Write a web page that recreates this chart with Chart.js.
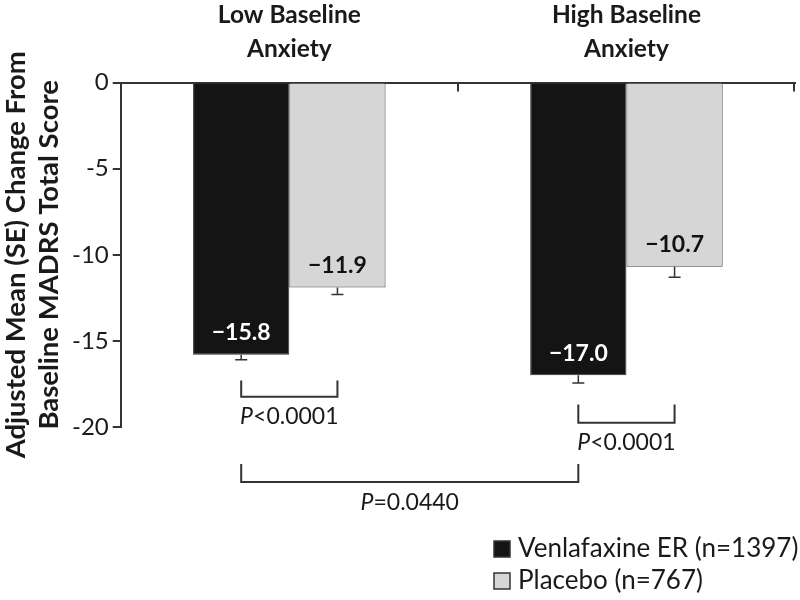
<!DOCTYPE html>
<html>
<head>
<meta charset="utf-8">
<script src="https://cdn.jsdelivr.net/npm/chart.js@4.4.1/dist/chart.umd.min.js"></script>
<style>
	body { margin: 0; background: #fff; }
	canvas { display: block; }
</style>
</head>
<body>
<canvas id="myChart" width="800" height="600"></canvas>
<script>
!(function(){
	'use strict';

	var categories = [['Low Baseline', 'Anxiety'], ['High Baseline', 'Anxiety']];
	var seriesNames = ['Venlafaxine ER (n=1397)', 'Placebo (n=767)'];
	var venlafaxine = [-15.8, -17.0];
	var venlafaxineSE = [0.3, 0.45];
	var placebo = [-11.9, -10.7];
	var placeboSE = [0.4, 0.6];
	var yMin = -20, yMax = 0, yStep = 5;

	// comparison brackets: [dataset, category] at each end, leg top / line level in axis units
	var comparisons = [
		{ a: [0, 0], b: [1, 0], top: -17.3, level: -18.25, p: '<0.0001' },
		{ a: [0, 1], b: [1, 1], top: -18.7, level: -19.75, p: '<0.0001' },
		{ a: [0, 0], b: [0, 1], top: -22.15, level: -23.2, p: '=0.0440' }
	];

	var FONT = 'Lato, "Open Sans", sans-serif';
	var INK = '#1a1a1a';

	var extras = {
		id: 'extras',
		afterDatasetsDraw: function(chart){
			var ctx = chart.ctx;
			var xs = chart.scales.x, ys = chart.scales.y;
			var area = chart.chartArea;
			ctx.save();

			// small inward ticks on the zero line between categories and at the end
			ctx.strokeStyle = '#333';
			ctx.lineWidth = 2;
			for (var i = 1; i <= categories.length; i++) {
				var tx = Math.round(xs.getPixelForValue(i - 0.5));
				if (i === categories.length) tx = area.right - 1;
				ctx.beginPath();
				ctx.moveTo(tx, area.top);
				ctx.lineTo(tx, area.top + 9);
				ctx.stroke();
			}

			// error bars (downward only) and value labels
			chart.data.datasets.forEach(function(ds, di){
				var meta = chart.getDatasetMeta(di);
				meta.data.forEach(function(bar, j){
					var v = ds.data[j];
					var yEnd = ys.getPixelForValue(v - ds.se[j]);
					ctx.strokeStyle = '#333';
					ctx.lineWidth = 1.5;
					ctx.beginPath();
					ctx.moveTo(bar.x, bar.y);
					ctx.lineTo(bar.x, yEnd);
					ctx.moveTo(bar.x - 6, yEnd);
					ctx.lineTo(bar.x + 6, yEnd);
					ctx.stroke();

					ctx.fillStyle = ds.labelColor;
					ctx.font = 'bold 23px ' + FONT;
					ctx.textAlign = 'center';
					ctx.textBaseline = 'middle';
					ctx.fillText('\u2212' + Math.abs(v).toFixed(1), bar.x, bar.y - 22);
				});
			});

			// significance brackets
			comparisons.forEach(function(c){
				var x1 = chart.getDatasetMeta(c.a[0]).data[c.a[1]].x;
				var x2 = chart.getDatasetMeta(c.b[0]).data[c.b[1]].x;
				var y1 = ys.getPixelForValue(c.top);
				var y2 = ys.getPixelForValue(c.level);
				ctx.strokeStyle = '#333';
				ctx.lineWidth = 2;
				ctx.beginPath();
				ctx.moveTo(x1, y1);
				ctx.lineTo(x1, y2);
				ctx.lineTo(x2, y2);
				ctx.lineTo(x2, y1);
				ctx.stroke();

				ctx.fillStyle = INK;
				ctx.textBaseline = 'middle';
				ctx.textAlign = 'left';
				ctx.font = 'italic 23px ' + FONT;
				var w1 = ctx.measureText('P').width;
				ctx.font = '23px ' + FONT;
				var w2 = ctx.measureText(c.p).width;
				var sx = (x1 + x2) / 2 - (w1 + w2) / 2;
				var ty = y2 + 20;
				ctx.font = 'italic 23px ' + FONT;
				ctx.fillText('P', sx, ty);
				ctx.font = '23px ' + FONT;
				ctx.fillText(c.p, sx + w1, ty);
			});

			// legend, stacked in the lower right
			chart.data.datasets.forEach(function(ds, di){
				var ly = 549 + di * 32;
				ctx.fillStyle = ds.backgroundColor;
				ctx.strokeStyle = '#333';
				ctx.lineWidth = 1.5;
				ctx.fillRect(494, ly - 8, 16, 16);
				ctx.strokeRect(494, ly - 8, 16, 16);
				ctx.fillStyle = INK;
				ctx.font = '26px ' + FONT;
				ctx.textAlign = 'left';
				ctx.textBaseline = 'middle';
				ctx.fillText(ds.label, 518, ly);
			});

			ctx.restore();
		}
	};

	var ctx = document.getElementById('myChart').getContext('2d');
	var myChart = new Chart(ctx, {
		type: 'bar',
		data: {
			labels: categories,
			datasets: [{
				label: seriesNames[0],
				data: venlafaxine,
				se: venlafaxineSE,
				backgroundColor: '#141414',
				borderColor: '#333',
				borderWidth: 1,
				labelColor: '#ffffff'
			}, {
				label: seriesNames[1],
				data: placebo,
				se: placeboSE,
				backgroundColor: '#d6d6d6',
				borderColor: '#444',
				borderWidth: 1,
				labelColor: '#111111'
			}]
		},
		options: {
			responsive: false,
			animation: false,
			devicePixelRatio: 1,
			categoryPercentage: 0.571,
			barPercentage: 1,
			layout: { padding: { top: -18, right: 5, bottom: 173, left: 0 } },
			plugins: {
				legend: { display: false },
				tooltip: { enabled: false }
			},
			scales: {
				x: {
					position: 'top',
					grid: { drawOnChartArea: false, drawTicks: false },
					border: { display: true, color: '#333', width: 2 },
					ticks: { color: INK, font: { family: FONT, size: 24.5, weight: 'bold', lineHeight: 1.4 }, padding: 16 }
				},
				y: {
					min: yMin,
					max: yMax,
					ticks: { stepSize: yStep, color: INK, font: { family: FONT, size: 24 }, padding: 4 },
					grid: { drawOnChartArea: false, drawTicks: true, tickLength: 8, color: '#333', lineWidth: 2 },
					border: { display: true, color: '#333', width: 2 },
					title: {
						display: true,
						text: ['Adjusted Mean (SE) Change From', 'Baseline MADRS Total Score'],
						color: INK,
						font: { family: FONT, size: 27.5, weight: 'bold', lineHeight: 1.2 },
						padding: { top: 0, bottom: 2 }
					}
				}
			}
		},
		plugins: [extras]
	});
})();
</script>
</body>
</html>
